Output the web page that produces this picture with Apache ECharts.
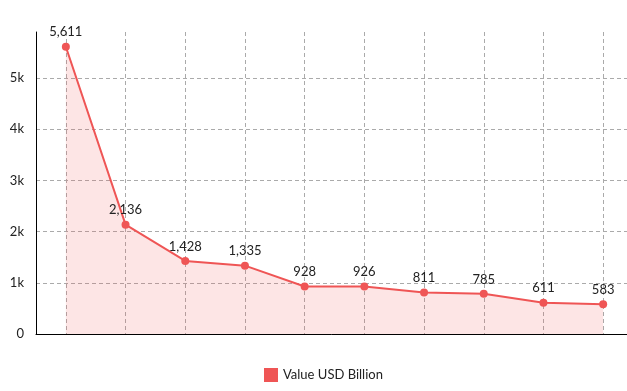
<!DOCTYPE html>
<html>
<head>
<meta charset="utf-8">
<script src="https://cdn.jsdelivr.net/npm/echarts@6/dist/echarts.min.js"></script>
<style>html,body{margin:0;padding:0;background:#fff;}#c{width:627px;height:391px;}</style>
</head>
<body>
<div id="c"></div>
<script>
const categories = ['1','2','3','4','5','6','7','8','9','10'];
const values = [5611, 2136, 1428, 1335, 928, 926, 811, 785, 611, 583];
const seriesName = 'Value USD Billion';

const chart = echarts.init(document.getElementById('c'));
chart.setOption({
  animation: false,
  textStyle: { fontFamily: 'Lato' },
  grid: { left: 36, width: 597, top: 32, bottom: 57, outerBoundsMode: 'none', containLabel: false },
  legend: {
    top: 363, left: 259,
    icon: 'rect', itemWidth: 14, itemHeight: 14, itemGap: 10,
    textStyle: { fontFamily: 'Lato', fontSize: 13, color: '#222' },
    data: [seriesName]
  },
  xAxis: {
    type: 'category',
    data: categories,
    boundaryGap: true,
    axisLine: { lineStyle: { color: '#000', width: 1 } },
    axisTick: { show: false },
    axisLabel: { show: false },
    splitLine: { show: true, alignWithLabel: true, lineStyle: { color: '#aaa', type: [4, 3], width: 1 } }
  },
  yAxis: {
    type: 'value',
    min: 0, max: 5900, interval: 1000,
    axisLine: { show: true, lineStyle: { color: '#000', width: 1 } },
    axisTick: { show: false },
    axisLabel: {
      margin: 12, fontFamily: 'Lato', fontSize: 13, color: '#222',
      showMaxLabel: false,
      formatter: v => v === 0 ? '0' : (v % 1000 === 0 ? (v / 1000) + 'k' : '')
    },
    splitLine: { show: true, showMaxLine: false, showMinLine: false, lineStyle: { color: '#aaa', type: [4, 3], width: 1 } }
  },
  series: [{
    name: seriesName,
    type: 'line',
    data: values,
    symbol: 'circle',
    symbolSize: 8,
    itemStyle: { color: '#ef5555' },
    lineStyle: { color: '#ef5555', width: 2 },
    areaStyle: { color: 'rgba(239,85,85,0.22)' },
    label: {
      show: true, position: 'top', distance: 4,
      fontFamily: 'Lato', fontSize: 13, color: '#222',
      formatter: p => p.value.toLocaleString('en-US')
    }
  }]
});
</script>
</body>
</html>
